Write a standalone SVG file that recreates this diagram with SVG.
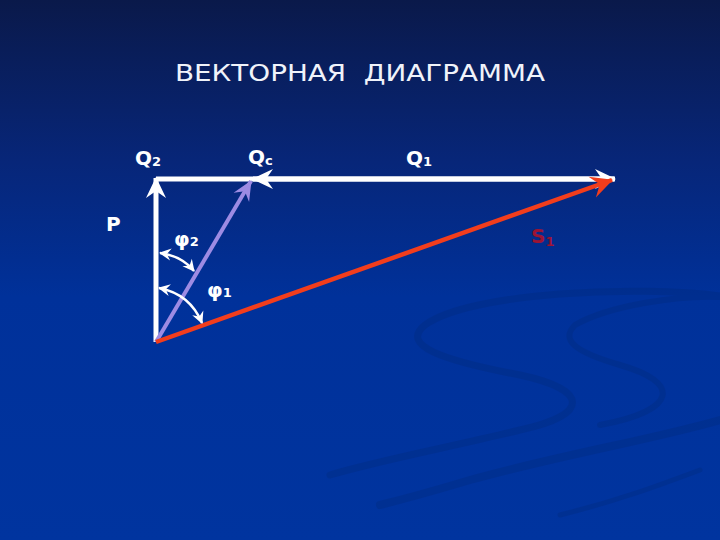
<svg xmlns="http://www.w3.org/2000/svg" width="720" height="540" viewBox="0 0 720 540">
<defs>
<linearGradient id="bg" x1="0" y1="0" x2="0" y2="1">
<stop offset="0" stop-color="#0a194a"/>
<stop offset="0.3" stop-color="#072679"/>
<stop offset="0.55" stop-color="#00319a"/>
<stop offset="1" stop-color="#00349f"/>
</linearGradient>
<marker id="aw" viewBox="-22 -11 24 22" refX="0" refY="0" markerWidth="24" markerHeight="22" markerUnits="userSpaceOnUse" orient="auto-start-reverse">
<path d="M1,0 L-20,-10 L-13,0 L-20,10 Z" fill="#ffffff"/>
</marker>
<marker id="ap" viewBox="-22 -11 24 22" refX="0" refY="0" markerWidth="24" markerHeight="22" markerUnits="userSpaceOnUse" orient="auto">
<path d="M1,0 L-19,-9 L-12,0 L-19,9 Z" fill="#9d8be3"/>
</marker>
<marker id="ar" viewBox="-24 -12 26 24" refX="0" refY="0" markerWidth="26" markerHeight="24" markerUnits="userSpaceOnUse" orient="auto">
<path d="M1,0 L-21,-11 L-13,0 L-21,11 Z" fill="#f23d1c"/>
</marker>
<marker id="as" viewBox="-13 -7 14 14" refX="0" refY="0" markerWidth="14" markerHeight="14" markerUnits="userSpaceOnUse" orient="auto-start-reverse">
<path d="M1,0 L-11,-6 L-7,0 L-11,6 Z" fill="#ffffff"/>
</marker>
<style>
.lbl{font-family:"DejaVu Sans","Liberation Sans",sans-serif;font-weight:bold;fill:#ffffff;font-size:20px}
.sub{font-size:13px}
.title{font-family:"DejaVu Sans","Liberation Sans",sans-serif;fill:#f0f3fa;font-size:23px;white-space:pre}
.swirl{fill:none;stroke:#00286f;stroke-linecap:round}
</style>
</defs>
<rect x="0" y="0" width="720" height="540" fill="url(#bg)"/>
<g id="background-swirls" opacity="0.25">
<path class="swirl" stroke-width="7" d="M720,296 C640,285 470,292 425,325 C400,345 440,360 520,375 C590,390 590,415 520,430 C460,445 380,460 330,475"/>
<path class="swirl" stroke-width="6" d="M720,297 C680,295 610,305 575,325 C560,340 575,352 620,365 C680,382 680,410 600,425"/>
<path class="swirl" stroke-width="8" d="M720,420 C650,440 560,455 470,480 C430,492 400,500 380,505"/>
<path class="swirl" stroke-width="5" d="M700,470 C660,485 620,500 560,515"/>
</g>
<text class="title" x="360" y="81" text-anchor="middle" textLength="370" lengthAdjust="spacingAndGlyphs" xml:space="preserve">ВЕКТОРНАЯ  ДИАГРАММА</text>
<g id="connectors">
<line id="P" x1="156" y1="342" x2="156" y2="178" stroke="#ffffff" stroke-width="5" marker-end="url(#aw)"/>
<line id="Q1" x1="156" y1="179" x2="615" y2="179" stroke="#ffffff" stroke-width="5" marker-end="url(#aw)"/>
<line id="Qc" x1="614" y1="179" x2="253" y2="179" stroke="#ffffff" stroke-width="5" marker-end="url(#aw)"/>
<line id="S2" x1="156" y1="342" x2="251" y2="181" stroke="#9d8be3" stroke-width="4" marker-end="url(#ap)"/>
<line id="S1" x1="156" y1="342" x2="612" y2="180" stroke="#f23d1c" stroke-width="4.5" marker-end="url(#ar)"/>
<path id="phi2-arc" d="M160,253 Q182,256 194,271" fill="none" stroke="#ffffff" stroke-width="2.5" marker-start="url(#as)" marker-end="url(#as)"/>
<path id="phi1-arc" d="M159,288 Q190,294 202,323" fill="none" stroke="#ffffff" stroke-width="2.5" marker-start="url(#as)" marker-end="url(#as)"/>
</g>
<g id="label-Q2"><text class="lbl" x="135" y="165">Q<tspan class="sub" dy="1">2</tspan></text></g>
<g id="label-Qc"><text class="lbl" x="248" y="164">Q<tspan class="sub" dy="1">c</tspan></text></g>
<g id="label-Q1"><text class="lbl" x="406" y="165">Q<tspan class="sub" dy="1">1</tspan></text></g>
<g id="label-P"><text class="lbl" x="106" y="231">P</text></g>
<g id="label-phi2"><text class="lbl" x="174" y="246" font-size="22">φ<tspan class="sub" dy="0">2</tspan></text></g>
<g id="label-phi1"><text class="lbl" x="207" y="297" font-size="22">φ<tspan class="sub" dy="0">1</tspan></text></g>
<g id="label-S1"><text class="lbl" x="531" y="243" style="fill:#9c1434">S<tspan class="sub" dy="3" style="fill:#9c1434">1</tspan></text></g>
</svg>
